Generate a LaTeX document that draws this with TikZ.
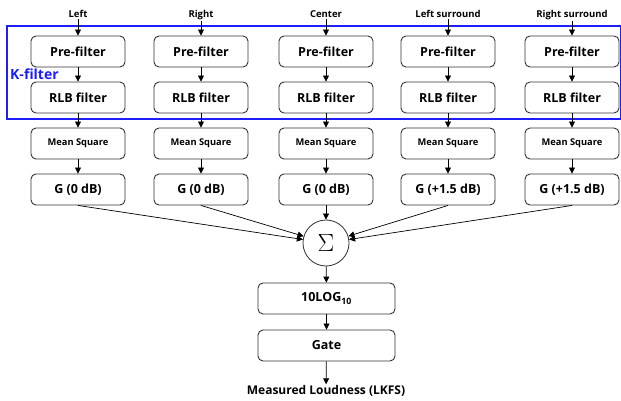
\documentclass[tikz,border=0pt]{standalone}
\usepackage{fontspec}
\setmainfont{Open Sans}
\usetikzlibrary{arrows.meta}
\definecolor{kblue}{RGB}{30,30,250}
\tikzset{
  box/.style={draw=black!80, line width=0.9pt, rounded corners=5pt, minimum width=94pt, minimum height=31pt, inner sep=0pt, font=\fontsize{12.5}{13}\selectfont\bfseries, fill=white},
  smallbox/.style={box, font=\fontsize{9.3}{10}\selectfont\bfseries},
  lab/.style={font=\fontsize{9.5}{10}\selectfont\bfseries, inner sep=1pt},
  arr/.style={-{Triangle[length=6pt,width=6pt]}, line width=0.7pt},
}
\begin{document}
\begin{tikzpicture}[x=1pt,y=-1pt]
\useasboundingbox (0,0) rectangle (621,401);
\draw[kblue, line width=1.3pt] (7,26) rectangle (621,119);
\node[anchor=west, text=kblue, font=\fontsize{14}{15}\selectfont\bfseries, inner sep=0pt] (kf) at (10,74) {K-filter};
\foreach \i/\x/\t/\g in {1/78/Left/0 dB, 2/201/Right/0 dB, 3/326/Center/0 dB, 4/448/Left surround/+1.5 dB, 5/572/Right surround/+1.5 dB}{
  \node[lab, anchor=base] (l\i) at (\x,17.5) {\t};
  \node[box] (p\i) at (\x,51.5) {Pre-filter};
  \node[box] (r\i) at (\x,97.5) {RLB filter};
  \node[smallbox] (m\i) at (\x,143.5) {Mean Square};
  \node[box] (g\i) at (\x,189.5) {G (\g)};
  \draw[arr] (l\i.south) -- (p\i);
  \draw[arr] (p\i) -- (r\i);
  \draw[arr] (r\i) -- (m\i);
  \draw[arr] (m\i) -- (g\i);
}
\node[draw=black!80, line width=0.8pt, circle, minimum size=46pt, inner sep=0pt, fill=white, font=\fontsize{30}{32}\selectfont] (sum) at (326,243) {$\Sigma$};
\foreach \i in {1,2,4,5}{ \draw[arr] (g\i.south) -- (sum); }
\draw[arr] (g3) -- (sum);
\node[box, minimum width=137pt] (log) at (326.5,298.5) {10LOG\textsubscript{10}};
\node[box, minimum width=137pt] (gate) at (326.5,345.5) {Gate};
\node[font=\fontsize{12}{13}\selectfont\bfseries, inner sep=1pt] (out) at (326,391) {Measured Loudness (LKFS)};
\draw[arr] (sum) -- (log);
\draw[arr] (log) -- (gate);
\draw[arr] (gate) -- (out);
\end{tikzpicture}
\end{document}
